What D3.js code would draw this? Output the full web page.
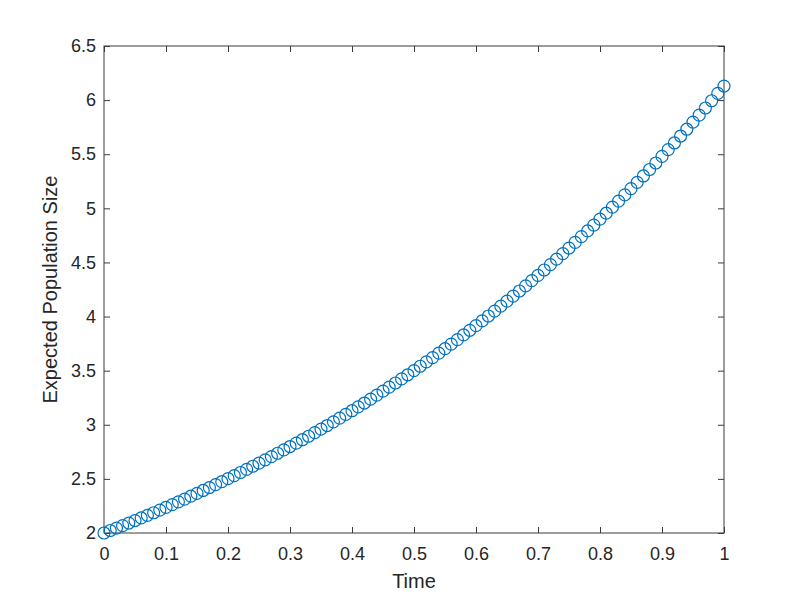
<!DOCTYPE html>
<html>
<head>
<meta charset="utf-8">
<script src="https://d3js.org/d3.v7.min.js"></script>
<style>
  body { margin: 0; background: #fff; }
  svg { display: block; }
  text { font-family: "Liberation Sans", Arial, Helvetica, sans-serif; }
</style>
</head>
<body>
<svg id="chart" width="800" height="600"></svg>
<script>
// Data
const times = d3.range(0, 101).map(i => i / 100);
const expectedSize = [
  2.000, 2.023, 2.045, 2.068, 2.092, 2.115, 2.139, 2.163, 2.187, 2.212,
  2.237, 2.262, 2.288, 2.313, 2.340, 2.366, 2.393, 2.420, 2.447, 2.474,
  2.502, 2.530, 2.559, 2.588, 2.617, 2.646, 2.676, 2.706, 2.737, 2.768,
  2.799, 2.830, 2.862, 2.894, 2.927, 2.960, 2.993, 3.027, 3.061, 3.096,
  3.130, 3.166, 3.201, 3.237, 3.274, 3.311, 3.348, 3.386, 3.424, 3.462,
  3.501, 3.541, 3.581, 3.621, 3.662, 3.703, 3.745, 3.787, 3.830, 3.873,
  3.916, 3.960, 4.005, 4.050, 4.096, 4.142, 4.189, 4.236, 4.283, 4.332,
  4.380, 4.430, 4.480, 4.530, 4.581, 4.633, 4.685, 4.738, 4.791, 4.845,
  4.900, 4.955, 5.011, 5.067, 5.124, 5.182, 5.240, 5.299, 5.359, 5.419,
  5.480, 5.542, 5.604, 5.668, 5.731, 5.796, 5.861, 5.927, 5.994, 6.062,
  6.130
];
const xTicks = [0, 0.1, 0.2, 0.3, 0.4, 0.5, 0.6, 0.7, 0.8, 0.9, 1];
const yTicks = [2, 2.5, 3, 3.5, 4, 4.5, 5, 5.5, 6, 6.5];
const xLabel = "Time";
const yLabel = "Expected Population Size";

const mLeft = 104, mRight = 724, mTop = 46, mBottom = 533;
const svg = d3.select("#chart");
const x = d3.scaleLinear().domain([0, 1]).range([mLeft, mRight]);
const y = d3.scaleLinear().domain([2, 6.5]).range([mBottom, mTop]);
const axisColor = "#262626";
const lineColor = "#3a3a3a";

// Box
svg.append("rect")
  .attr("x", mLeft).attr("y", mTop)
  .attr("width", mRight - mLeft).attr("height", mBottom - mTop)
  .attr("fill", "none").attr("stroke", lineColor).attr("stroke-width", 1);

// X axis
const gx = svg.append("g").attr("transform", `translate(0,${mBottom})`)
  .call(d3.axisBottom(x).tickValues(xTicks).tickSizeInner(-6).tickSizeOuter(0).tickPadding(14)
    .tickFormat(d => d3.format("~g")(d)));
gx.select(".domain").remove();
gx.selectAll("line").attr("stroke", lineColor);
gx.selectAll("text").attr("fill", axisColor).style("font-size", "18px");
svg.append("g").attr("transform", `translate(0,${mTop})`)
  .call(d3.axisTop(x).tickValues(xTicks).tickSizeInner(-6).tickSizeOuter(0).tickFormat(""))
  .call(g => g.select(".domain").remove())
  .selectAll("line").attr("stroke", lineColor);

// Y axis
const gy = svg.append("g").attr("transform", `translate(${mLeft},0)`)
  .call(d3.axisLeft(y).tickValues(yTicks).tickSizeInner(-6).tickSizeOuter(0).tickPadding(8)
    .tickFormat(d => d3.format("~g")(d)));
gy.select(".domain").remove();
gy.selectAll("line").attr("stroke", lineColor);
gy.selectAll("text").attr("fill", axisColor).style("font-size", "18px");
svg.append("g").attr("transform", `translate(${mRight},0)`)
  .call(d3.axisRight(y).tickValues(yTicks).tickSizeInner(-6).tickSizeOuter(0).tickFormat(""))
  .call(g => g.select(".domain").remove())
  .selectAll("line").attr("stroke", lineColor);

// Labels
svg.append("text").attr("x", (mLeft + mRight) / 2).attr("y", 588)
  .attr("text-anchor", "middle").attr("fill", axisColor).style("font-size", "20px").text(xLabel);
svg.append("text").attr("transform", `translate(57,${(mTop + mBottom) / 2}) rotate(-90)`)
  .attr("text-anchor", "middle").attr("fill", axisColor).style("font-size", "20px").text(yLabel);

// Markers
svg.append("g").selectAll("circle")
  .data(times.map((t, i) => [t, expectedSize[i]]))
  .join("circle")
  .attr("cx", d => x(d[0])).attr("cy", d => y(d[1]))
  .attr("r", 6)
  .attr("fill", "none").attr("stroke", "#0072BD").attr("stroke-width", 1.2);
</script>
</body>
</html>
